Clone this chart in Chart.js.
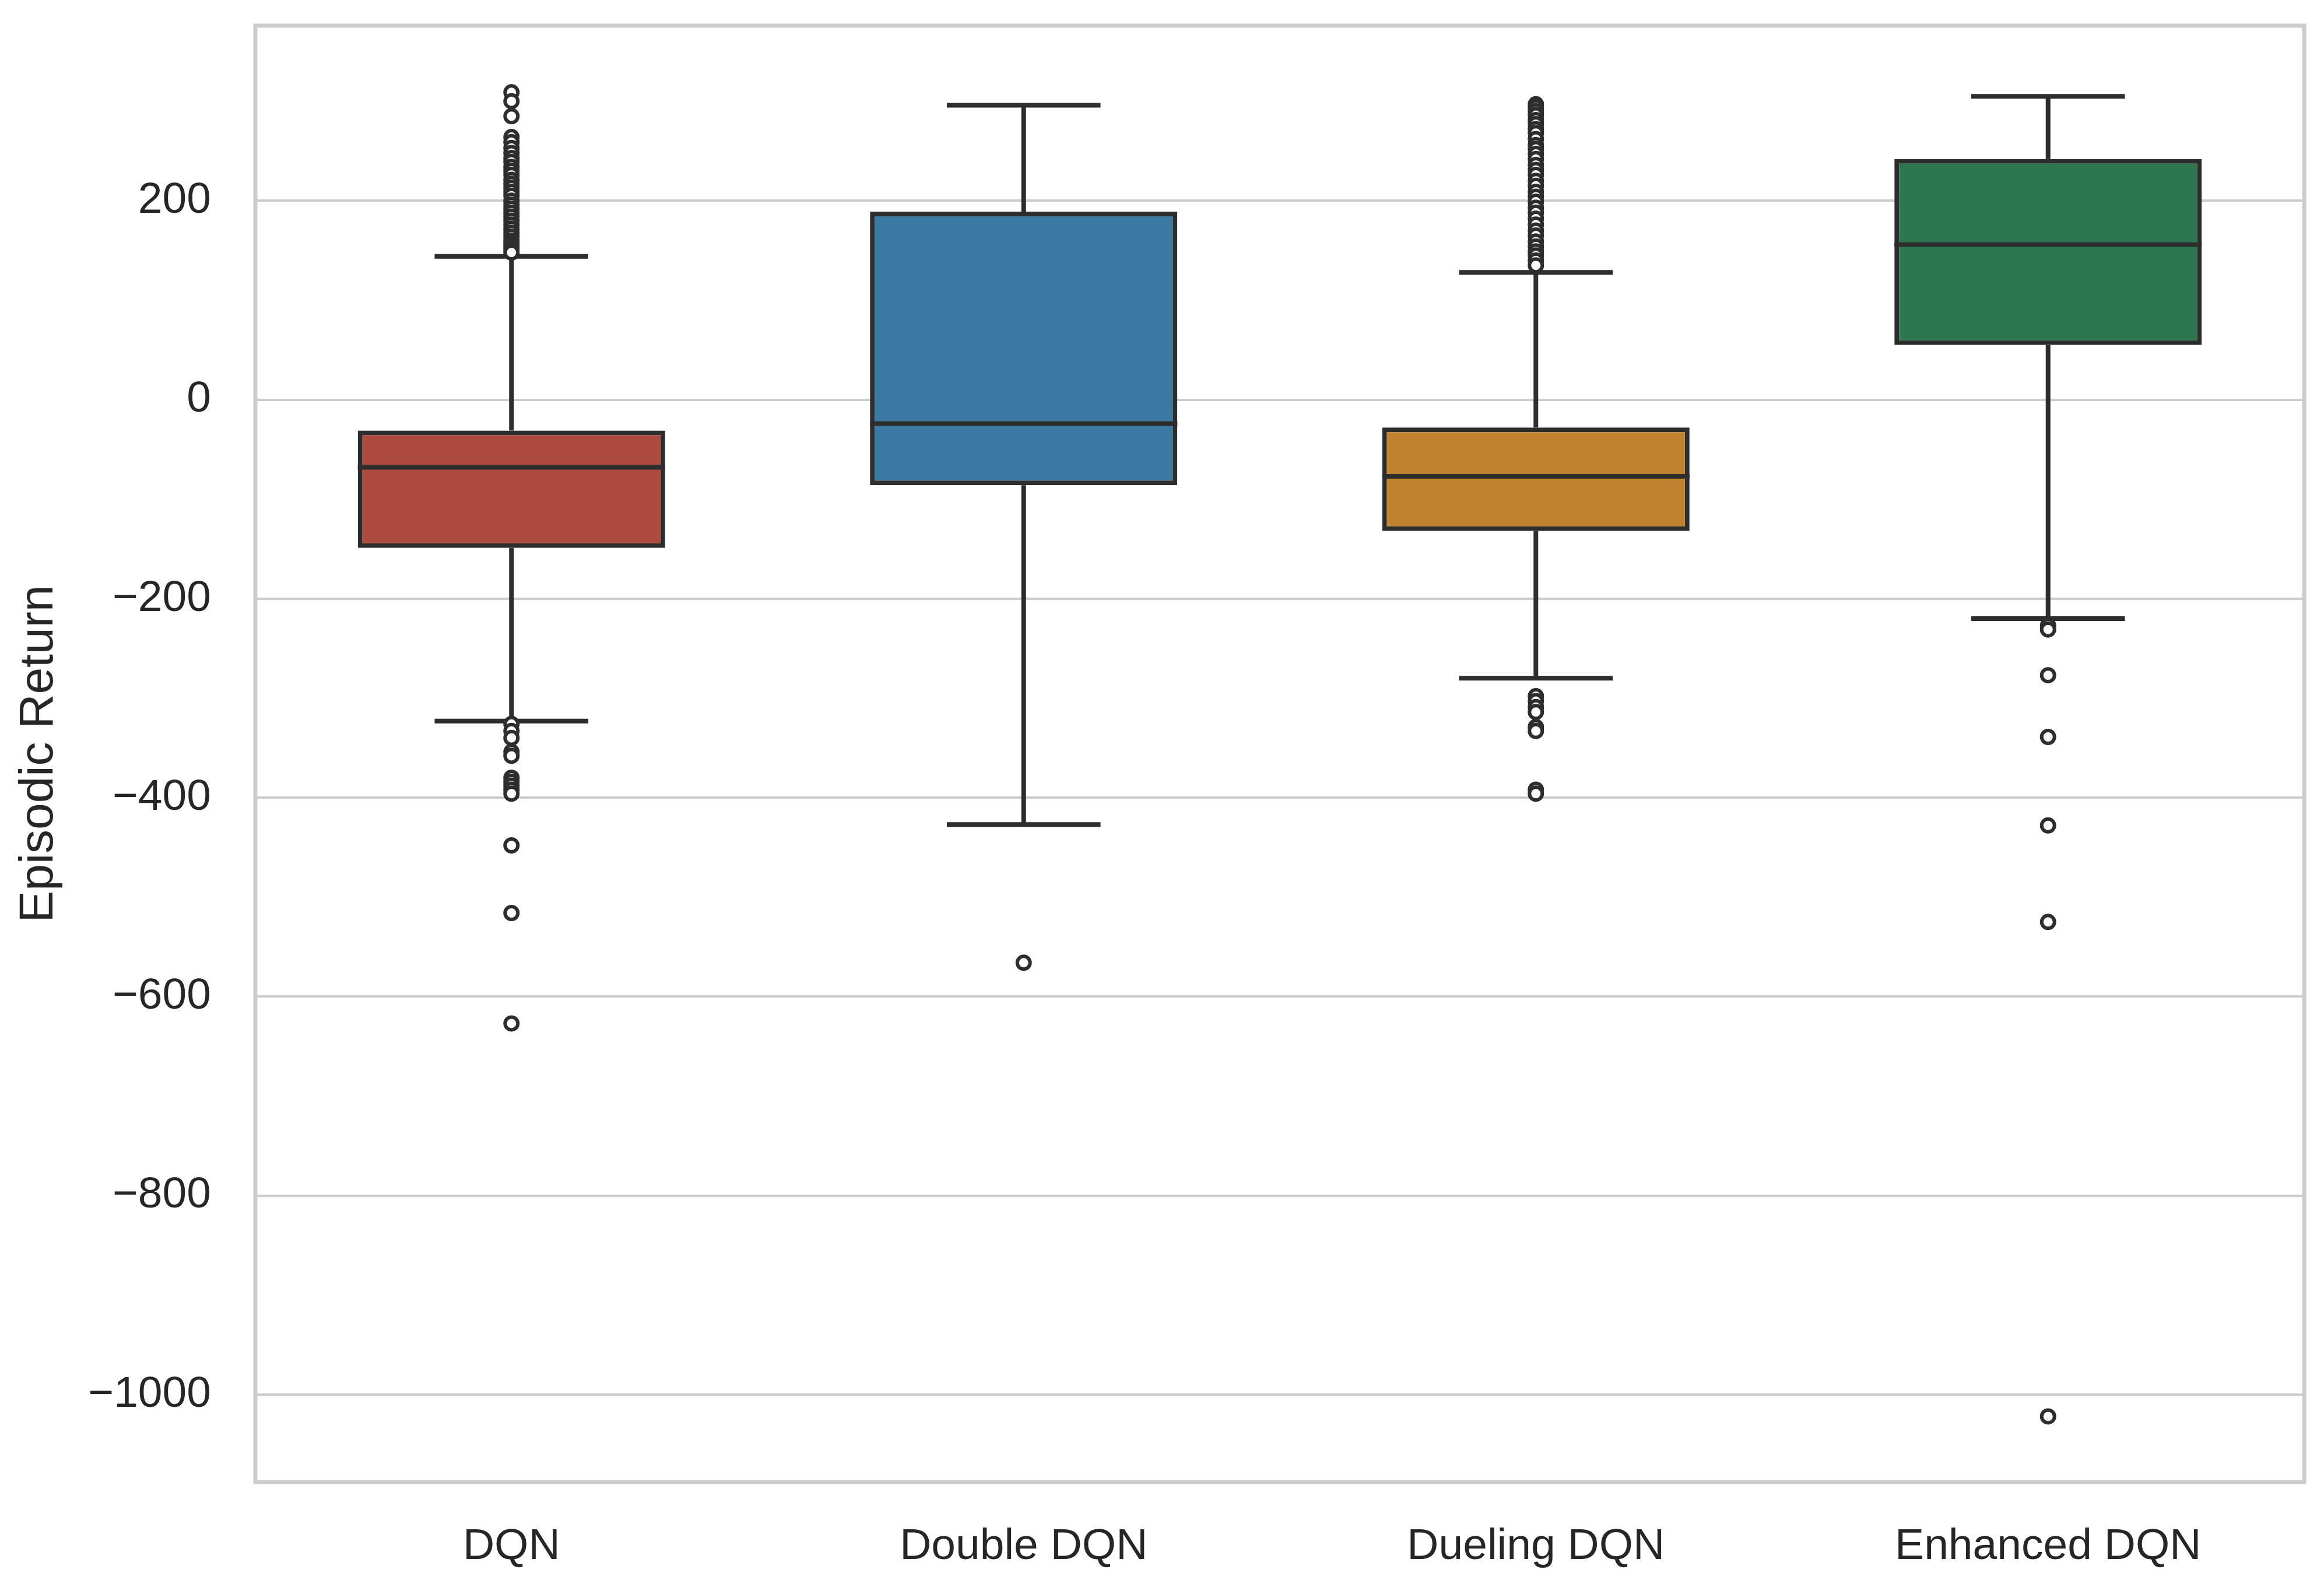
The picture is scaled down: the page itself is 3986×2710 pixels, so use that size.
<!DOCTYPE html>
<html>
<head>
<meta charset="utf-8">
<script src="https://cdn.jsdelivr.net/npm/chart.js@4.4.1/dist/chart.umd.min.js"></script>
<style>
	html, body { margin: 0; padding: 0; background: #ffffff; }
	#chart { display: block; }
</style>
</head>
<body>
<canvas id="chart" width="3986" height="2710" style="width:3986px;height:2710px;"></canvas>
<script>
'use strict';

// box statistics
const categories = ['DQN', 'Double DQN', 'Dueling DQN', 'Enhanced DQN'];
const q1 = [-149, -86, -132, 55];
const medians = [-68, -24, -77, 156];
const q3 = [-31, 189, -28, 242];
const whiskerLow = [-323, -427, -280, -220];
const whiskerHigh = [144, 296, 128, 305];

// outliers per model
const dqnOutliers = [309, 300, 285, 264, 259, 253, 248, 243, 239, 234, 230, 226, 221, 217, 213, 209, 205, 200, 196, 192, 188, 184, 180, 176, 172, 168, 164, 160, 157, 154, 151, 148,
	-326, -333, -340, -354, -358, -380, -384, -388, -392, -396, -448, -516, -627];
const doubleOutliers = [-566];
const duelingOutliers = [297, 294, 290, 286, 281, 277, 272, 268, 262, 256, 252, 247, 242, 236, 231, 226, 220, 215, 209, 204, 199, 193, 188, 182, 176, 170, 165, 159, 154, 149, 145, 140, 135,
	-298, -303, -309, -314, -329, -333, -392, -396];
const enhancedOutliers = [-227, -231, -277, -339, -428, -525, -1022];

const boxColors = ['#ad4a3f', '#3b7ba3', '#bf8330', '#2c774d'];
const yTicks = [-1000, -800, -600, -400, -200, 0, 200];

const lineColor = '#2d2d2d';
const textColor = '#262626';
const lineW = 8;

function outlierPoints() {
	let points = [];
	let groups = [dqnOutliers, doubleOutliers, duelingOutliers, enhancedOutliers];
	groups.forEach(function (list, i) {
		for (const v of list) {
			points.push({ x: categories[i], y: v });
		}
	});
	return points;
}

function minusLabel(value) {
	return value < 0 ? '\u2212' + Math.abs(value) : String(value);
}

/**
 * Whiskers, caps and median lines drawn through the chart scales
 */
const boxPlotLines = {
	id: 'boxPlotLines',
	beforeDatasetsDraw(chart) {
		const ctx = chart.ctx;
		const x = chart.scales.x;
		const y = chart.scales.y;
		const meta = chart.getDatasetMeta(0);
		ctx.save();
		ctx.strokeStyle = lineColor;
		ctx.lineWidth = lineW;
		ctx.lineCap = 'butt';
		categories.forEach(function (c, i) {
			const cx = x.getPixelForValue(i);
			const half = meta.data[i].width / 4;
			ctx.beginPath();
			ctx.moveTo(cx, y.getPixelForValue(q3[i]));
			ctx.lineTo(cx, y.getPixelForValue(whiskerHigh[i]));
			ctx.moveTo(cx, y.getPixelForValue(q1[i]));
			ctx.lineTo(cx, y.getPixelForValue(whiskerLow[i]));
			ctx.moveTo(cx - half, y.getPixelForValue(whiskerHigh[i]));
			ctx.lineTo(cx + half, y.getPixelForValue(whiskerHigh[i]));
			ctx.moveTo(cx - half, y.getPixelForValue(whiskerLow[i]));
			ctx.lineTo(cx + half, y.getPixelForValue(whiskerLow[i]));
			ctx.stroke();
		});
		ctx.restore();
	},
	afterDatasetDraw(chart, args) {
		if (args.index !== 0) {
			return;
		}
		const ctx = chart.ctx;
		const x = chart.scales.x;
		const y = chart.scales.y;
		const meta = chart.getDatasetMeta(0);
		ctx.save();
		ctx.strokeStyle = lineColor;
		ctx.lineWidth = lineW;
		categories.forEach(function (c, i) {
			const cx = x.getPixelForValue(i);
			const half = meta.data[i].width / 2;
			const my = y.getPixelForValue(medians[i]);
			ctx.beginPath();
			ctx.moveTo(cx - half, my);
			ctx.lineTo(cx + half, my);
			ctx.stroke();
		});
		ctx.restore();
	}
};

const frameBox = {
	id: 'frameBox',
	afterDraw(chart) {
		const a = chart.chartArea;
		const ctx = chart.ctx;
		ctx.save();
		ctx.strokeStyle = '#cccccc';
		ctx.lineWidth = 7;
		ctx.strokeRect(a.left, a.top, a.right - a.left, a.bottom - a.top);
		ctx.restore();
	}
};

const whiteBackground = {
	id: 'whiteBackground',
	beforeDraw(chart) {
		const ctx = chart.ctx;
		ctx.save();
		ctx.fillStyle = '#ffffff';
		ctx.fillRect(0, 0, chart.width, chart.height);
		ctx.restore();
	}
};

Chart.defaults.font.family = '"Liberation Sans", Arial, sans-serif';
Chart.defaults.color = textColor;

new Chart(document.getElementById('chart'), {
	type: 'bar',
	data: {
		labels: categories,
		datasets: [{
			data: categories.map(function (c, i) { return [q1[i], q3[i]]; }),
			backgroundColor: boxColors,
			borderColor: lineColor,
			borderWidth: lineW,
			borderSkipped: false,
			categoryPercentage: 0.6,
			barPercentage: 1.0,
			order: 2
		}, {
			type: 'scatter',
			data: outlierPoints(),
			showLine: false,
			pointRadius: 11,
			pointBorderWidth: 6,
			pointBackgroundColor: '#ffffff',
			pointBorderColor: lineColor,
			order: 1
		}]
	},
	options: {
		responsive: false,
		animation: false,
		devicePixelRatio: 1,
		layout: {
			padding: { left: 0, top: 44, right: 34, bottom: 0 }
		},
		plugins: {
			legend: { display: false },
			tooltip: { enabled: false }
		},
		scales: {
			x: {
				type: 'category',
				grid: { display: false },
				border: { display: false },
				ticks: {
					padding: 58,
					font: { size: 75 },
					color: textColor
				},
				afterFit: function (scale) {
					scale.height = 168;
					scale.paddingLeft = 0;
					scale.paddingRight = 0;
				}
			},
			y: {
				type: 'linear',
				min: -1088,
				max: 376,
				grid: {
					color: '#cccccc',
					lineWidth: 4,
					drawTicks: false
				},
				border: { display: false },
				ticks: {
					padding: 76,
					font: { size: 75 },
					color: textColor,
					callback: minusLabel
				},
				afterBuildTicks: function (scale) {
					scale.ticks = yTicks.map(function (v) { return { value: v }; });
				},
				afterFit: function (scale) {
					scale.width = 438;
					scale.paddingTop = 0;
					scale.paddingBottom = 0;
				},
				title: {
					display: true,
					text: 'Episodic Return',
					font: { size: 82 },
					color: textColor,
					padding: { top: 18, bottom: 0 }
				}
			}
		}
	},
	plugins: [whiteBackground, boxPlotLines, frameBox]
});
</script>
</body>
</html>
